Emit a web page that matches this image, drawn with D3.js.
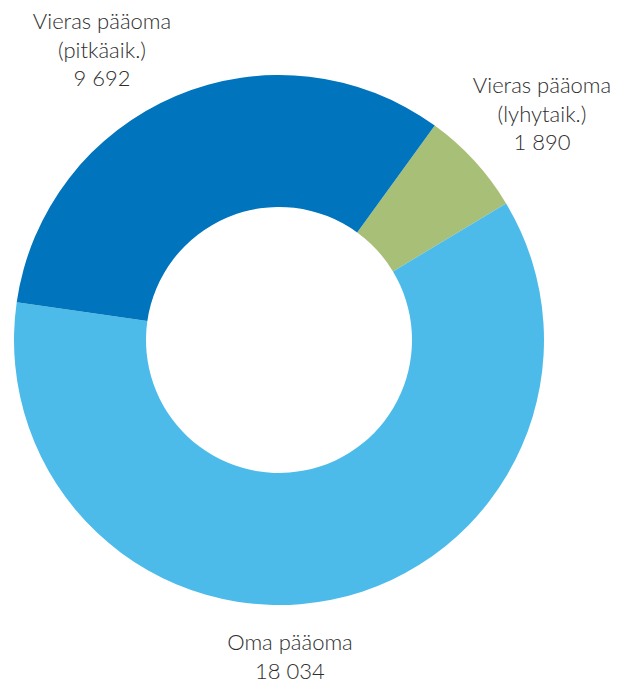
<!DOCTYPE html>
<meta charset="utf-8">
<style>
body { margin: 0; background: #fff; }
.label {
  font-family: Lato, "Open Sans", sans-serif;
  font-size: 22px;
  font-weight: 300;
  fill: #2e2e2e;
  text-anchor: middle;
}
</style>
<svg width="627" height="684"></svg>
<script src="https://cdn.jsdelivr.net/npm/d3@7"></script>
<script>

// order runs clockwise from the green slice
const categories = ["Vieras pääoma (lyhytaik.)", "Oma pääoma", "Vieras pääoma (pitkäaik.)"];
const values = [1890, 18034, 9692];
const valueLabels = ["1 890", "18 034", "9 692"];
const labelLines = [["Vieras pääoma", "(lyhytaik.)"], ["Oma pääoma"], ["Vieras pääoma", "(pitkäaik.)"]];

const colors = ["#a8bf77", "#4dbbea", "#0074bc"];

const CX = 279, CY = 340;
const R_OUT = 265, R_IN = 133;
const START = 36 * Math.PI / 180;

// where each label block starts (first baseline)
const labelPos = [[542, 93], [290, 650], [102, 29]];
const LINE_H = 28.5;

var svg = d3.select("svg");
var g = svg.append("g").attr("transform", "translate(" + CX + "," + CY + ")");

var pie = d3.pie().sort(null).value(function(d) { return d; })
  .startAngle(START).endAngle(START + 2 * Math.PI);

var arc = d3.arc().innerRadius(R_IN).outerRadius(R_OUT);

g.selectAll("path")
  .data(pie(values))
  .enter().append("path")
    .attr("d", arc)
    .style("fill", function(d, i) { return colors[i]; });

categories.forEach(function(c, i) {
  var lines = labelLines[i].concat([valueLabels[i]]);
  var t = svg.append("text")
    .attr("class", "label")
    .attr("x", labelPos[i][0])
    .attr("y", labelPos[i][1]);
  lines.forEach(function(l, k) {
    t.append("tspan")
      .attr("x", labelPos[i][0])
      .attr("dy", k == 0 ? 0 : LINE_H)
      .text(l);
  });
});

</script>
